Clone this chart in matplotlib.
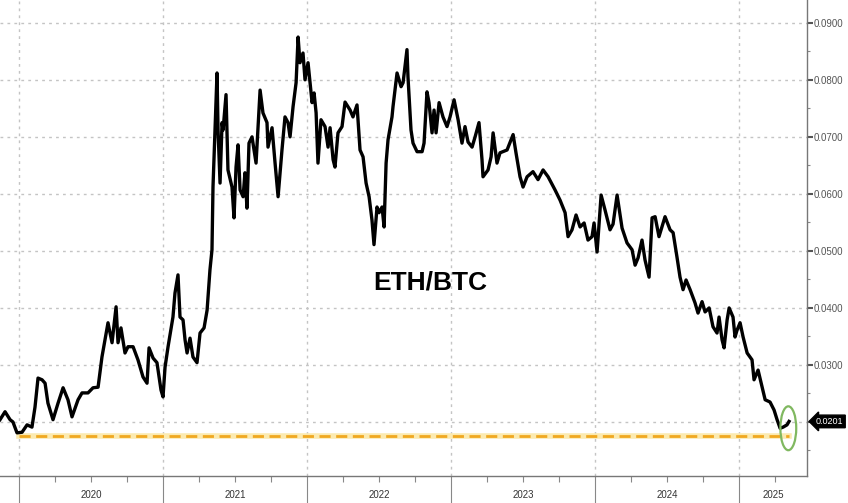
import matplotlib
matplotlib.use("Agg")
import matplotlib.pyplot as plt
from matplotlib.patches import Ellipse
from matplotlib.ticker import FixedLocator, MultipleLocator, NullFormatter

plt.rcParams["font.family"] = ["Liberation Sans", "DejaVu Sans"]

# ETH/BTC ratio, time as decimal year
t = [2019.868, 2019.903, 2019.938, 2019.958, 2019.986, 2020.021, 2020.056, 2020.090, 2020.111, 2020.132,
     2020.160, 2020.181, 2020.201, 2020.236, 2020.271, 2020.306, 2020.340, 2020.368, 2020.410, 2020.4375,
     2020.479, 2020.514, 2020.549, 2020.576, 2020.597, 2020.618, 2020.646, 2020.674, 2020.6875, 2020.708,
     2020.736, 2020.757, 2020.792, 2020.826, 2020.861, 2020.889, 2020.903, 2020.931, 2020.958, 2020.986,
     2021.000, 2021.014, 2021.035, 2021.069, 2021.083, 2021.104, 2021.118, 2021.139, 2021.153, 2021.167,
     2021.1875, 2021.208, 2021.236, 2021.257, 2021.285, 2021.306, 2021.326, 2021.340, 2021.347, 2021.375,
     2021.382, 2021.396, 2021.410, 2021.417, 2021.4375, 2021.451, 2021.479, 2021.493, 2021.507, 2021.521,
     2021.535, 2021.556, 2021.569, 2021.583, 2021.597, 2021.618, 2021.646, 2021.674, 2021.694, 2021.722,
     2021.729, 2021.757, 2021.778, 2021.799, 2021.826, 2021.847, 2021.868, 2021.882, 2021.903, 2021.924,
     2021.938, 2021.951, 2021.972, 2021.986, 2022.007, 2022.035, 2022.049, 2022.063, 2022.076, 2022.097,
     2022.125, 2022.146, 2022.160, 2022.181, 2022.194, 2022.215, 2022.243, 2022.264, 2022.299, 2022.319,
     2022.347, 2022.368, 2022.389, 2022.410, 2022.431, 2022.451, 2022.465, 2022.486, 2022.500, 2022.521,
     2022.535, 2022.549, 2022.5625, 2022.590, 2022.597, 2022.625, 2022.653, 2022.667, 2022.694, 2022.701,
     2022.722, 2022.736, 2022.764, 2022.799, 2022.8125, 2022.833, 2022.847, 2022.868, 2022.882, 2022.896,
     2022.917, 2022.944, 2022.972, 2022.993, 2023.021, 2023.049, 2023.076, 2023.097, 2023.118, 2023.146,
     2023.167, 2023.194, 2023.215, 2023.222, 2023.257, 2023.278, 2023.292, 2023.319, 2023.340, 2023.389,
     2023.431, 2023.451, 2023.479, 2023.500, 2023.528, 2023.569, 2023.604, 2023.639, 2023.674, 2023.722,
     2023.757, 2023.792, 2023.8125, 2023.840, 2023.868, 2023.896, 2023.924, 2023.951, 2023.979, 2023.993,
     2024.014, 2024.042, 2024.069, 2024.104, 2024.125, 2024.153, 2024.1875, 2024.222, 2024.257, 2024.278,
     2024.299, 2024.326, 2024.347, 2024.375, 2024.396, 2024.417, 2024.444, 2024.486, 2024.521, 2024.542,
     2024.569, 2024.590, 2024.611, 2024.632, 2024.660, 2024.694, 2024.715, 2024.743, 2024.764, 2024.792,
     2024.819, 2024.847, 2024.861, 2024.882, 2024.896, 2024.917, 2024.931, 2024.958, 2024.972, 2024.986,
     2025.007, 2025.028, 2025.056, 2025.090, 2025.104, 2025.132, 2025.160, 2025.181, 2025.215, 2025.243,
     2025.264, 2025.285, 2025.306, 2025.333, 2025.347]
eth_btc = [0.0204, 0.0218, 0.0204, 0.0200, 0.0181, 0.0182, 0.0195, 0.0191, 0.0226, 0.0277,
           0.0274, 0.0268, 0.0233, 0.0204, 0.0233, 0.0260, 0.0239, 0.0209, 0.0239, 0.0251,
           0.0251, 0.0260, 0.0261, 0.0314, 0.0344, 0.0374, 0.0339, 0.0402, 0.0339, 0.0365,
           0.0321, 0.0332, 0.0332, 0.0309, 0.0279, 0.0268, 0.0330, 0.0312, 0.0304, 0.0256,
           0.0244, 0.0296, 0.0332, 0.0384, 0.0426, 0.0458, 0.0384, 0.0379, 0.0344, 0.0321,
           0.0347, 0.0314, 0.0304, 0.0356, 0.0365, 0.0396, 0.0467, 0.0502, 0.0612, 0.0812,
           0.0712, 0.0619, 0.0725, 0.0712, 0.0774, 0.0642, 0.0612, 0.0558, 0.0647, 0.0686,
           0.0607, 0.0595, 0.0637, 0.0575, 0.0689, 0.0700, 0.0654, 0.0782, 0.0742, 0.0725,
           0.0682, 0.0716, 0.0654, 0.0595, 0.0677, 0.0735, 0.0725, 0.0700, 0.0753, 0.0795,
           0.0875, 0.0830, 0.0847, 0.0800, 0.0830, 0.0760, 0.0777, 0.0742, 0.0654, 0.0730,
           0.0718, 0.0682, 0.0716, 0.0660, 0.0647, 0.0707, 0.0718, 0.0761, 0.0747, 0.0735,
           0.0756, 0.0677, 0.0665, 0.0619, 0.0595, 0.0554, 0.0511, 0.0577, 0.0567, 0.0577,
           0.0542, 0.0654, 0.0695, 0.0735, 0.0753, 0.0812, 0.0788, 0.0795, 0.0853, 0.0805,
           0.0712, 0.0689, 0.0674, 0.0674, 0.0689, 0.0779, 0.0760, 0.0707, 0.0747, 0.0707,
           0.0760, 0.0735, 0.0718, 0.0735, 0.0765, 0.0730, 0.0689, 0.0718, 0.0691, 0.0682,
           0.0700, 0.0725, 0.0660, 0.0630, 0.0642, 0.0665, 0.0707, 0.0654, 0.0672, 0.0677,
           0.0704, 0.0672, 0.0630, 0.0612, 0.0630, 0.0639, 0.0625, 0.0642, 0.0630, 0.0607,
           0.0589, 0.0567, 0.0525, 0.0537, 0.0563, 0.0542, 0.0549, 0.0519, 0.0525, 0.0549,
           0.0498, 0.0598, 0.0572, 0.0537, 0.0547, 0.0598, 0.0540, 0.0514, 0.0502, 0.0475,
           0.0488, 0.0519, 0.0484, 0.0454, 0.0558, 0.0560, 0.0525, 0.0560, 0.0537, 0.0532,
           0.0489, 0.0454, 0.0432, 0.0449, 0.0432, 0.0409, 0.0391, 0.0411, 0.0393, 0.0400,
           0.0367, 0.0356, 0.0384, 0.0344, 0.0330, 0.0379, 0.0400, 0.0384, 0.0349, 0.0361,
           0.0374, 0.0349, 0.0321, 0.0309, 0.0274, 0.0291, 0.0261, 0.0239, 0.0235, 0.0221,
           0.0204, 0.0189, 0.0191, 0.0195, 0.0201]

years = [2020, 2021, 2022, 2023, 2024, 2025]
y_ticks = [0.02, 0.03, 0.04, 0.05, 0.06, 0.07, 0.08, 0.09]
last_value = 0.0201
support_level = 0.0175

fig = plt.figure(figsize=(8.48, 5.03), dpi=100)
ax = fig.add_axes([0.0, 0.0537, 0.9517, 0.9463])

x_min, x_max = 2019.868, 2025.472
ax.set_xlim(x_min, x_max)
ax.set_ylim(0.01053, 0.094)

grid_col = "#c4c4c4"
for yv in y_ticks:
    ax.axhline(yv, color=grid_col, lw=1.0, ls=(0, (2, 3)), zorder=1)
for yr in years:
    ax.axvline(yr, color=grid_col, lw=1.0, ls=(0, (2, 3)), zorder=1)

ax.plot(t, eth_btc, color="black", lw=2.4, zorder=3, solid_joinstyle="round")

# support line at the lows
ax.plot([years[0], t[-1]], [support_level, support_level], color="#fbeab0", lw=4, zorder=2)
ax.plot([years[0], t[-1]], [support_level, support_level], color="#f0a820", lw=2,
        ls=(0, (4, 2)), zorder=2)

# circle the latest print
ax.add_patch(Ellipse((t[-1] - 0.005, 0.0189), 0.11, 0.0077, fill=False,
                     ec="#80b860", lw=1.6, zorder=4))

ax.text(2022.854, 0.0444, "ETH/BTC", ha="center", va="center", fontsize=19,
        fontweight="bold", zorder=5)

# y axis on the right
ax.yaxis.tick_right()
ax.yaxis.set_major_locator(FixedLocator(y_ticks))
ax.yaxis.set_minor_locator(MultipleLocator(0.005))
ax.set_yticklabels(["" if v == 0.02 else f"{v:.4f}" for v in y_ticks])
ax.tick_params(axis="y", which="major", length=4, width=1.5, color="#555555",
               labelsize=7, labelcolor="#555555", pad=1)
ax.tick_params(axis="y", which="minor", length=2, width=0.8, color="#888888")

ax.text(1.011, last_value, f"{last_value:.4f}", transform=ax.get_yaxis_transform(),
        ha="left", va="center", fontsize=6.5, color="white",
        bbox=dict(boxstyle="larrow,pad=0.2", fc="black", ec="black"), clip_on=False)

# x axis: years with quarter minor ticks
ax.xaxis.set_major_locator(FixedLocator(years))
ax.xaxis.set_minor_locator(MultipleLocator(0.25))
ax.xaxis.set_major_formatter(NullFormatter())
ax.tick_params(axis="x", which="major", length=20, width=0.8, color="#888888", direction="out")
ax.tick_params(axis="x", which="minor", length=4, width=0.8, color="#888888", direction="out")

label_pos = [yr + 0.5 for yr in years[:-1]] + [(years[-1] + x_max) / 2]
for yr, xp in zip(years, label_pos):
    ax.text(xp, -0.04, str(yr), transform=ax.get_xaxis_transform(), ha="center", va="center",
            fontsize=7, color="#333333")

for side in ["top", "left"]:
    ax.spines[side].set_visible(False)
for side in ["bottom", "right"]:
    ax.spines[side].set_color("#777777")
    ax.spines[side].set_linewidth(1.0)

fig.savefig("out.png", dpi=100)
